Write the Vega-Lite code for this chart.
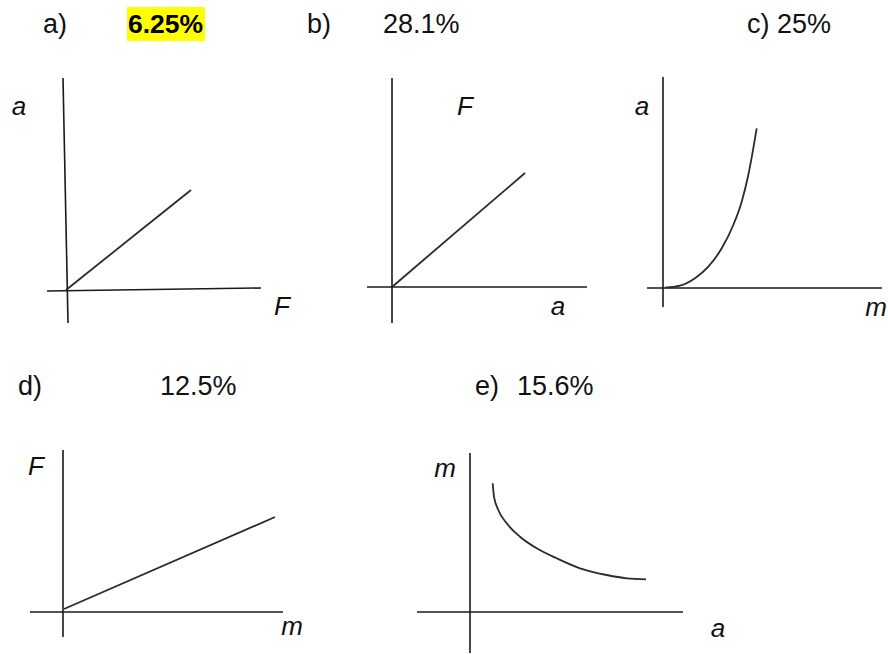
{
  "$schema": "https://vega.github.io/schema/vega-lite/v6.json",
  "width": 888,
  "height": 654,
  "autosize": {"type": "fit", "contains": "padding"},
  "padding": 0,
  "background": "white",
  "config": {"view": {"stroke": null}},
  "datasets": {
    "highlight": [{"x": 127, "x2": 205, "y": 7, "y2": 41}],
    "axes": [
      {"panel": "a", "x": 63, "y": 78, "x2": 68, "y2": 323},
      {"panel": "a", "x": 47, "y": 291, "x2": 261, "y2": 288},
      {"panel": "b", "x": 392, "y": 78, "x2": 392, "y2": 323},
      {"panel": "b", "x": 367, "y": 287, "x2": 587, "y2": 287},
      {"panel": "c", "x": 663, "y": 77, "x2": 663, "y2": 307},
      {"panel": "c", "x": 647, "y": 288, "x2": 882, "y2": 288},
      {"panel": "d", "x": 63, "y": 450, "x2": 63, "y2": 637},
      {"panel": "d", "x": 30, "y": 612, "x2": 283, "y2": 612},
      {"panel": "e", "x": 470, "y": 453, "x2": 470, "y2": 653},
      {"panel": "e", "x": 417, "y": 612, "x2": 683, "y2": 612}
    ],
    "curves": [
      {"panel": "a", "i": 0, "x": 66, "y": 290},
      {"panel": "a", "i": 1, "x": 191, "y": 190},
      {"panel": "b", "i": 0, "x": 392, "y": 287},
      {"panel": "b", "i": 1, "x": 525, "y": 173},
      {"panel": "c", "i": 0, "x": 665, "y": 287.7},
      {"panel": "c", "i": 1, "x": 680, "y": 285.7},
      {"panel": "c", "i": 2, "x": 695, "y": 278.3},
      {"panel": "c", "i": 3, "x": 708.3, "y": 266.7},
      {"panel": "c", "i": 4, "x": 721.7, "y": 248.3},
      {"panel": "c", "i": 5, "x": 733.3, "y": 225},
      {"panel": "c", "i": 6, "x": 741.7, "y": 201.7},
      {"panel": "c", "i": 7, "x": 748.3, "y": 175},
      {"panel": "c", "i": 8, "x": 753.3, "y": 148.3},
      {"panel": "c", "i": 9, "x": 756.7, "y": 128.3},
      {"panel": "d", "i": 0, "x": 64, "y": 609},
      {"panel": "d", "i": 1, "x": 275, "y": 517},
      {"panel": "e", "i": 0, "x": 492.7, "y": 483.3},
      {"panel": "e", "i": 1, "x": 494, "y": 496.7},
      {"panel": "e", "i": 2, "x": 498.3, "y": 510},
      {"panel": "e", "i": 3, "x": 506.7, "y": 523.3},
      {"panel": "e", "i": 4, "x": 520, "y": 536.7},
      {"panel": "e", "i": 5, "x": 536.7, "y": 548.3},
      {"panel": "e", "i": 6, "x": 556.7, "y": 558.3},
      {"panel": "e", "i": 7, "x": 580, "y": 568.3},
      {"panel": "e", "i": 8, "x": 606.7, "y": 575},
      {"panel": "e", "i": 9, "x": 626.7, "y": 578.3},
      {"panel": "e", "i": 10, "x": 646, "y": 579.3}
    ],
    "titles": [
      {"text": "a)", "x": 43, "y": 33},
      {"text": "b)", "x": 307, "y": 33},
      {"text": "28.1%", "x": 383, "y": 33},
      {"text": "c) 25%", "x": 747, "y": 33},
      {"text": "d)", "x": 18, "y": 395},
      {"text": "12.5%", "x": 160, "y": 395},
      {"text": "e)", "x": 475, "y": 395},
      {"text": "15.6%", "x": 517, "y": 395}
    ],
    "answer": [{"text": "6.25%", "x": 128, "y": 33}],
    "varlabels": [
      {"panel": "a", "text": "a", "x": 19, "y": 115},
      {"panel": "a", "text": "F", "x": 282, "y": 315},
      {"panel": "b", "text": "F", "x": 465, "y": 115},
      {"panel": "b", "text": "a", "x": 558, "y": 315},
      {"panel": "c", "text": "a", "x": 642, "y": 115},
      {"panel": "c", "text": "m", "x": 876, "y": 316},
      {"panel": "d", "text": "F", "x": 36, "y": 475},
      {"panel": "d", "text": "m", "x": 292, "y": 635},
      {"panel": "e", "text": "m", "x": 445, "y": 477},
      {"panel": "e", "text": "a", "x": 718, "y": 637}
    ]
  },
  "layer": [
    {
      "data": {"name": "highlight"},
      "mark": {"type": "rect", "color": "#ffff00"},
      "encoding": {
        "x": {"field": "x", "type": "quantitative", "scale": {"domain": [0, 888], "nice": false, "zero": false}, "axis": null},
        "x2": {"field": "x2"},
        "y": {"field": "y", "type": "quantitative", "scale": {"domain": [0, 654], "nice": false, "zero": false, "reverse": true}, "axis": null},
        "y2": {"field": "y2"}
      }
    },
    {
      "data": {"name": "axes"},
      "mark": {"type": "rule", "stroke": "#1a1a1a", "strokeWidth": 1.6},
      "encoding": {
        "x": {"field": "x", "type": "quantitative", "scale": {"domain": [0, 888], "nice": false, "zero": false}, "axis": null},
        "x2": {"field": "x2"},
        "y": {"field": "y", "type": "quantitative", "scale": {"domain": [0, 654], "nice": false, "zero": false, "reverse": true}, "axis": null},
        "y2": {"field": "y2"}
      }
    },
    {
      "data": {"name": "curves"},
      "mark": {"type": "line", "stroke": "#2a2a2a", "strokeWidth": 1.8, "interpolate": "monotone"},
      "encoding": {
        "x": {"field": "x", "type": "quantitative", "scale": {"domain": [0, 888], "nice": false, "zero": false}, "axis": null},
        "y": {"field": "y", "type": "quantitative", "scale": {"domain": [0, 654], "nice": false, "zero": false, "reverse": true}, "axis": null},
        "detail": {"field": "panel", "type": "nominal"},
        "order": {"field": "i", "type": "quantitative"}
      }
    },
    {
      "data": {"name": "titles"},
      "mark": {"type": "text", "font": "Liberation Sans", "fontSize": 27, "align": "left", "baseline": "alphabetic", "color": "#111111"},
      "encoding": {
        "x": {"field": "x", "type": "quantitative", "scale": {"domain": [0, 888], "nice": false, "zero": false}, "axis": null},
        "y": {"field": "y", "type": "quantitative", "scale": {"domain": [0, 654], "nice": false, "zero": false, "reverse": true}, "axis": null},
        "text": {"field": "text"}
      }
    },
    {
      "data": {"name": "answer"},
      "mark": {"type": "text", "font": "Liberation Sans", "fontSize": 26.5, "fontWeight": "bold", "align": "left", "baseline": "alphabetic", "color": "#000000"},
      "encoding": {
        "x": {"field": "x", "type": "quantitative", "scale": {"domain": [0, 888], "nice": false, "zero": false}, "axis": null},
        "y": {"field": "y", "type": "quantitative", "scale": {"domain": [0, 654], "nice": false, "zero": false, "reverse": true}, "axis": null},
        "text": {"field": "text"}
      }
    },
    {
      "data": {"name": "varlabels"},
      "mark": {"type": "text", "font": "Liberation Sans", "fontSize": 26, "fontStyle": "italic", "align": "center", "baseline": "alphabetic", "color": "#111111"},
      "encoding": {
        "x": {"field": "x", "type": "quantitative", "scale": {"domain": [0, 888], "nice": false, "zero": false}, "axis": null},
        "y": {"field": "y", "type": "quantitative", "scale": {"domain": [0, 654], "nice": false, "zero": false, "reverse": true}, "axis": null},
        "text": {"field": "text"}
      }
    }
  ]
}
